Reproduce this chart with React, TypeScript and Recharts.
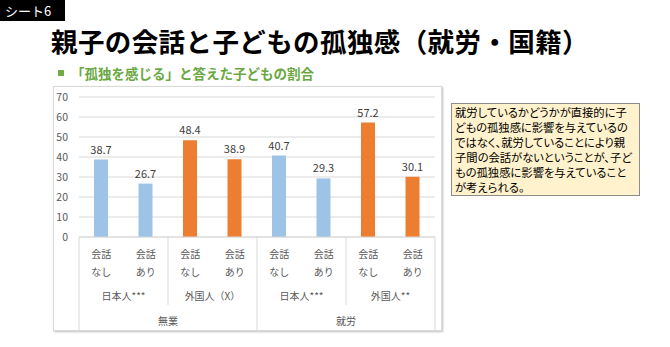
import { Bar, BarChart, CartesianGrid, Cell, LabelList, XAxis, YAxis } from "recharts";

const TALK = ["なし", "あり", "なし", "あり", "なし", "あり", "なし", "あり"];
const NATIONALITY = [
  "日本人***",
  "日本人***",
  "外国人（X）",
  "外国人（X）",
  "日本人***",
  "日本人***",
  "外国人**",
  "外国人**",
];
const WORK = ["無業", "無業", "無業", "無業", "就労", "就労", "就労", "就労"];
const VALUES = [38.7, 26.7, 48.4, 38.9, 40.7, 29.3, 57.2, 30.1];
const Y_TICKS = [0, 10, 20, 30, 40, 50, 60, 70];

const NOTE_LINES = [
  "就労しているかどうかが直接的に子",
  "どもの孤独感に影響を与えているの",
  "ではなく、就労していることにより親",
  "子間の会話がないということが、子ど",
  "もの孤独感に影響を与えていること",
  "が考えられる。",
];

const BLUE = "#9DC3E6";
const ORANGE = "#ED7D31";
const LINE = "#D9D9D9";
const FONT = '"Noto Sans CJK JP", "Noto Sans", sans-serif';

const data = VALUES.map((value, i) => ({
  key: `${WORK[i]}-${NATIONALITY[i]}-${TALK[i]}`,
  value,
  foreign: NATIONALITY[i].startsWith("外国人"),
}));

function CategoryTick(props: any) {
  const { x, y, payload, width } = props;
  const i = payload.index;
  const band = payload.offset ? payload.offset * 2 : width / data.length;
  const left = x - band / 2;
  const right = x + band / 2;
  const text = {
    fill: "#595959",
    fontSize: 10,
    fontFamily: FONT,
    textAnchor: "middle" as const,
    dominantBaseline: "central" as const,
  };
  return (
    <g>
      <text {...text} x={x} y={y + 16}>会話</text>
      <text {...text} x={x} y={y + 34}>{TALK[i]}</text>
      {i % 2 === 0 && (
        <>
          <text {...text} x={right} y={y + 58}>{NATIONALITY[i]}</text>
          <line x1={left} x2={left} y1={y} y2={i % 4 === 0 ? y + 93 : y + 68} stroke={LINE} />
        </>
      )}
      {i % 4 === 0 && (
        <text {...text} x={right + band} y={y + 83}>{WORK[i]}</text>
      )}
      {i === data.length - 1 && <line x1={right} x2={right} y1={y} y2={y + 93} stroke={LINE} />}
    </g>
  );
}

export default function App() {
  return (
    <div style={{ position: "relative", width: 670, height: 347, background: "#fff", fontFamily: FONT, overflow: "hidden" }}>
      <style>{"body{margin:0}"}</style>
      <div
        style={{
          position: "absolute",
          left: 0,
          top: 0,
          width: 65,
          height: 21,
          background: "#000",
          color: "#fff",
          fontSize: 13,
          lineHeight: "21px",
          paddingLeft: 5,
          boxSizing: "border-box",
        }}
      >
        シート6
      </div>
      <div
        style={{
          position: "absolute",
          left: 51,
          top: 27,
          fontSize: 26.5,
          lineHeight: "27px",
          letterSpacing: 0.4,
          fontWeight: 700,
          color: "#000",
          whiteSpace: "nowrap",
        }}
      >
        親子の会話と子どもの孤独感（就労・国籍）
      </div>
      <div style={{ position: "absolute", left: 58, top: 70, width: 6, height: 6, background: "#70AD47" }} />
      <div
        style={{
          position: "absolute",
          left: 71,
          top: 64,
          fontSize: 13.5,
          lineHeight: "18px",
          fontWeight: 700,
          color: "#6AA842",
          whiteSpace: "nowrap",
        }}
      >
        「孤独を感じる」と答えた子どもの割合
      </div>
      <div
        style={{
          position: "absolute",
          left: 53,
          top: 86,
          width: 389,
          height: 245,
          border: `1px solid ${LINE}`,
          boxShadow: "1px 1px 2px rgba(0,0,0,0.25)",
          boxSizing: "border-box",
        }}
      />
      <div style={{ position: "absolute", left: 53, top: 86 }}>
        <BarChart
          width={389}
          height={245}
          data={data}
          margin={{ top: 11, right: 7, bottom: 1, left: 6 }}
          barSize={14}
        >
          <CartesianGrid vertical={false} stroke={LINE} />
          <XAxis
            dataKey="key"
            interval={0}
            height={93}
            tickLine={false}
            tickSize={0}
            tickMargin={0}
            axisLine={{ stroke: LINE }}
            tick={<CategoryTick />}
          />
          <YAxis
            domain={[0, 70]}
            ticks={Y_TICKS}
            interval={0}
            width={20}
            axisLine={false}
            tickLine={false}
            tickMargin={5}
            tick={{ fill: "#595959", fontSize: 10.5, fontFamily: FONT }}
          />
          <Bar dataKey="value" isAnimationActive={false}>
            {data.map((d) => (
              <Cell key={d.key} fill={d.foreign ? ORANGE : BLUE} />
            ))}
            <LabelList
              dataKey="value"
              position="top"
              offset={6}
              style={{ fill: "#404040", fontSize: 11, fontFamily: FONT }}
            />
          </Bar>
        </BarChart>
      </div>
      <div
        style={{
          position: "absolute",
          left: 451,
          top: 103,
          width: 189,
          height: 93,
          background: "#FFF2CC",
          border: "1px solid #8C8C8C",
          boxSizing: "border-box",
          padding: "1px 0 0 3px",
          fontSize: 11.3,
          lineHeight: "15px",
          fontFeatureSettings: '"palt"',
          color: "#000",
          whiteSpace: "nowrap",
        }}
      >
        {NOTE_LINES.map((line) => (
          <div key={line}>{line}</div>
        ))}
      </div>
    </div>
  );
}
